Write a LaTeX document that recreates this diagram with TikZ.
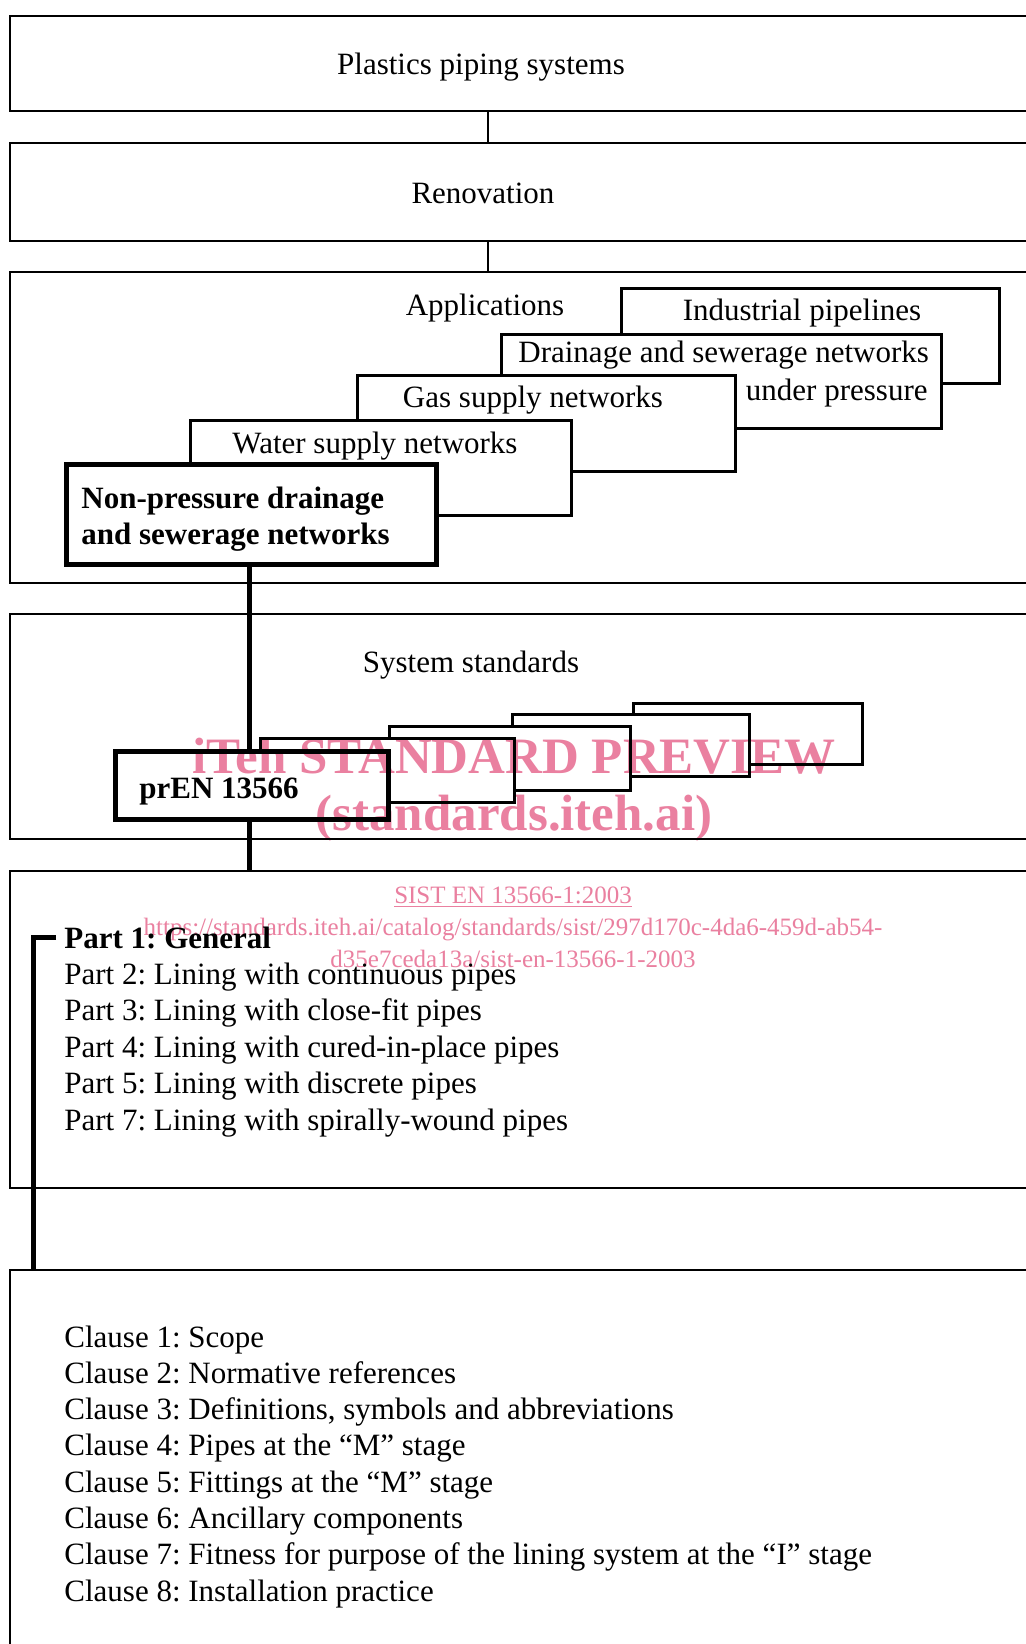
\documentclass[tikz,border=0pt]{standalone}
\usepackage{fontspec}
\setmainfont{Liberation Serif}
\usetikzlibrary{fit}
\definecolor{wm}{RGB}{234,128,160}
\frenchspacing
\begin{document}
\begin{tikzpicture}[x=0.5pt,y=-0.5pt,
  outerbox/.style={draw, line width=1.35pt, inner sep=0pt},
  appbox/.style={draw, fill=white, line width=1.5pt, inner sep=0pt},
  keybox/.style={draw, fill=white, line width=2.5pt, inner sep=0pt},
  lbl/.style={inner sep=0pt, font=\fontsize{15.5pt}{18.25pt}\selectfont},
  blbl/.style={inner sep=0pt, font=\fontsize{15.5pt}{18.25pt}\selectfont\bfseries},
  link/.style={line width=1.3pt},
  keylink/.style={line width=2.5pt},
  wmbig/.style={inner sep=0pt, text=wm, font=\fontsize{25.5pt}{30pt}\selectfont\bfseries},
  wmsmall/.style={inner sep=0pt, text=wm, font=\fontsize{12.5pt}{15pt}\selectfont}
]
\useasboundingbox (0,0) rectangle (1026,1644);
\clip (0,0) rectangle (1026,1644);
\fill[white] (0,0) rectangle (1026,1644);

\coordinate (spine) at (488,0);
\coordinate (kspine) at (249,0);
\coordinate (bspine) at (33,0);

% outer boxes
\node[outerbox, fit={(10,16) (1040,111)}] (plastics) {};
\node[outerbox, fit={(10,143) (1040,241)}] (renov) {};
\node[outerbox, fit={(10,272) (1040,583)}] (apps) {};
\node[outerbox, fit={(10,614) (1040,839)}] (sys) {};
\node[outerbox, fit={(10,871) (1040,1188)}] (parts) {};
\node[outerbox, fit={(10,1270) (1040,1660)}] (clauses) {};

\node[lbl, anchor=base] (plasticsl) at (481,74) {Plastics piping systems};
\node[lbl, anchor=base] (renovl) at (483,203) {Renovation};
\node[lbl, anchor=base] (appsl) at (485,315) {Applications};
\node[lbl, anchor=base] (sysl) at (471,672) {System standards};

% applications
\node[appbox, fit={(621,288.5) (999,383.5)}] (indus) {};
\node[lbl, anchor=base] (indusl) at (802,320) {Industrial pipelines};
\node[appbox, fit={(501.5,334.5) (941.5,428.5)}] (drain) {};
\node[lbl, anchor=base west] (drainl) at (518,362) {Drainage and sewerage networks};
\node[lbl, anchor=base east] (drainm) at (928,400) {under pressure};
\node[appbox, fit={(357.5,375) (735.5,471.5)}] (gas) {};
\node[lbl, anchor=base] (gasl) at (533,407) {Gas supply networks};
\node[appbox, fit={(190.5,420) (571.5,515.5)}] (water) {};
\node[lbl, anchor=base] (waterl) at (375,453) {Water supply networks};
\node[keybox, fit={(66,464.5) (436,564.5)}] (nonpress) {};
\node[blbl, anchor=base west] (nonpressl) at (81,508) {Non-pressure drainage};
\node[blbl, anchor=base west] (nonpressm) at (81,544) {and sewerage networks};

% system standards
\node[appbox, fit={(633,703) (862,764)}] (sd) {};
\node[appbox, fit={(512,714) (749,776)}] (sc) {};
\node[appbox, fit={(389,726) (630,790)}] (sb) {};
\node[appbox, fit={(260,738) (514,802)}] (sa) {};
\node[keybox, fit={(115,751) (388,819)}] (pren) {};
\node[blbl, anchor=base west] (prenl) at (139,798) {prEN 13566};

% parts
\node[blbl, anchor=base west] (part1) at (64,948) {Part 1: General};
\foreach \n/\t [count=\i] in {2/Lining with continuous pipes, 3/Lining with close-fit pipes, 4/Lining with cured-in-place pipes, 5/Lining with discrete pipes, 7/Lining with spirally-wound pipes}
  \node[lbl, anchor=base west] (part\n) at (64,{984+36.5*(\i-1)}) {Part \n: \t};

% clauses
\foreach \t [count=\i] in {Scope, Normative references, {Definitions, symbols and abbreviations}, Pipes at the “M” stage, Fittings at the “M” stage, Ancillary components, Fitness for purpose of the lining system at the “I” stage, Installation practice}
  \node[lbl, anchor=base west] (clause\i) at (64,{1347+36.3*(\i-1)}) {Clause \i: \t};

% connectors
\draw[link] (plastics.south -| spine) -- (renov.north -| spine);
\draw[link] (renov.south -| spine) -- (apps.north -| spine);
\draw[keylink] (nonpress.south -| kspine) -- (pren.north -| kspine);
\draw[keylink] (pren.south -| kspine) -- (parts.north -| kspine);
\draw[keylink, line join=miter] ([xshift=-4pt]part1.west) -| (clauses.north -| bspine);

% watermark
\begin{scope}[blend mode=multiply]
\node[wmbig, anchor=base] (wm1) at (514,773) {iTeh STANDARD PREVIEW};
\node[wmbig, anchor=base] (wm2) at (514,830) {(standards.iteh.ai)};
\node[wmsmall, anchor=base] (wm3) at (513,903) {\underline{SIST EN 13566-1:2003}};
\node[wmsmall, anchor=base] (wm4) at (513,935) {https://standards.iteh.ai/catalog/standards/sist/297d170c-4da6-459d-ab54-};
\node[wmsmall, anchor=base] (wm5) at (513,967) {d35e7ceda13a/sist-en-13566-1-2003};
\end{scope}
\end{tikzpicture}
\end{document}
